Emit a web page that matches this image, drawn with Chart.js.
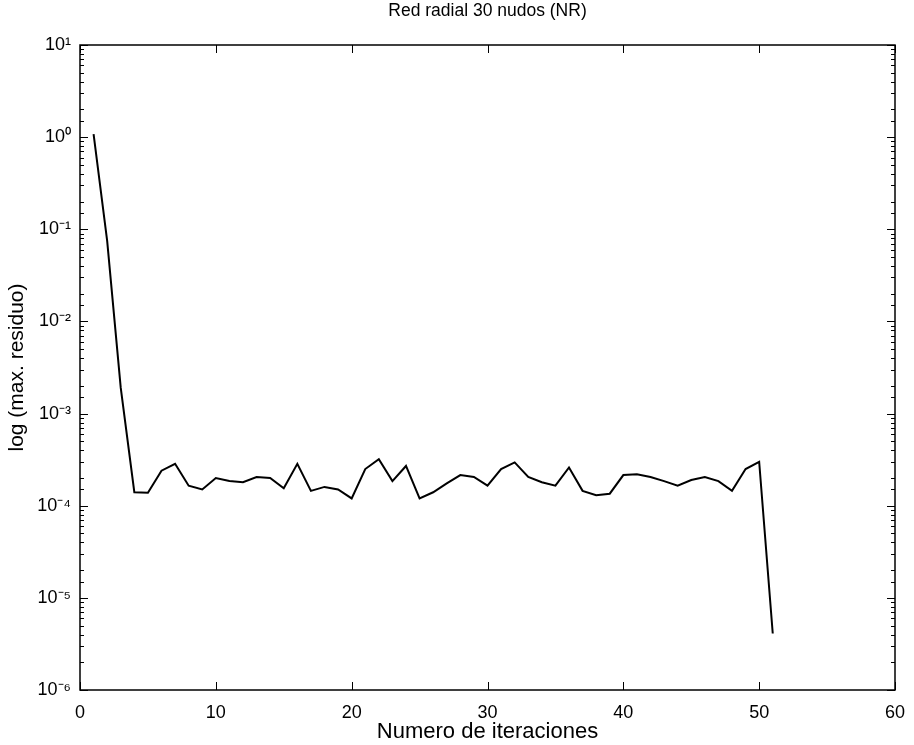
<!DOCTYPE html>
<html>
<head>
<meta charset="utf-8">
<script src="https://cdn.jsdelivr.net/npm/chart.js@4/dist/chart.umd.min.js"></script>
<style>
  html, body { margin: 0; padding: 0; background: #fff; }
  #wrap { width: 914px; height: 745px; }
</style>
</head>
<body>
<div id="wrap"><canvas id="chart" width="914" height="745"></canvas></div>
<script>
// iteration number and max residual
const iterations = [1, 2, 3, 4, 5, 6, 7, 8, 9, 10, 11, 12, 13, 14, 15, 16, 17, 18, 19, 20,
    21, 22, 23, 24, 25, 26, 27, 28, 29, 30, 31, 32, 33, 34, 35, 36, 37, 38, 39, 40,
    41, 42, 43, 44, 45, 46, 47, 48, 49, 50, 51];
const residuals = [1.08, 0.075, 0.0019, 1.4e-4, 1.38e-4, 2.4e-4, 2.85e-4, 1.65e-4, 1.5e-4, 2.0e-4,
    1.85e-4, 1.8e-4, 2.05e-4, 2.0e-4, 1.55e-4, 2.85e-4, 1.45e-4, 1.6e-4, 1.5e-4, 1.2e-4,
    2.5e-4, 3.2e-4, 1.85e-4, 2.7e-4, 1.2e-4, 1.4e-4, 1.75e-4, 2.15e-4, 2.05e-4, 1.65e-4,
    2.5e-4, 2.95e-4, 2.05e-4, 1.8e-4, 1.65e-4, 2.6e-4, 1.45e-4, 1.3e-4, 1.35e-4, 2.15e-4,
    2.2e-4, 2.05e-4, 1.85e-4, 1.65e-4, 1.9e-4, 2.05e-4, 1.85e-4, 1.45e-4, 2.5e-4, 3.0e-4, 4.1e-6];
const xTicks = [0, 10, 20, 30, 40, 50, 60];
const yRange = [1e-6, 10];

const sup = { '-': '\u207B', '0': '\u2070', '1': '\u00B9', '2': '\u00B2', '3': '\u00B3',
    '4': '\u2074', '5': '\u2075', '6': '\u2076', '7': '\u2077', '8': '\u2078', '9': '\u2079' };
function powLabel(v) {
    const e = Math.round(Math.log10(v));
    if (Math.abs(Math.log10(v) - e) > 1e-6) return '';
    return '10' + String(e).split('').map(c => sup[c]).join('');
}

// MATLAB style box with inward ticks, title centred over the axes
const boxTicks = {
    id: 'boxTicks',
    afterLayout(chart) {
        if (chart.titleBlock) {
            chart.titleBlock.left = chart.chartArea.left;
            chart.titleBlock.right = chart.chartArea.right;
            chart.titleBlock.width = chart.chartArea.right - chart.chartArea.left;
        }
    },
    afterDraw(chart) {
        const { ctx, chartArea: a, scales } = chart;
        ctx.save();
        ctx.strokeStyle = '#000';
        ctx.lineWidth = 1;
        ctx.beginPath();
        scales.y.ticks.forEach(t => {
            const py = Math.round(scales.y.getPixelForValue(t.value)) + 0.5;
            const len = powLabel(t.value) ? 8 : 4;
            ctx.moveTo(a.left, py); ctx.lineTo(a.left + len, py);
            ctx.moveTo(a.right, py); ctx.lineTo(a.right - len, py);
        });
        xTicks.forEach(v => {
            const px = Math.round(scales.x.getPixelForValue(v)) + 0.5;
            ctx.moveTo(px, a.bottom); ctx.lineTo(px, a.bottom - 8);
            ctx.moveTo(px, a.top); ctx.lineTo(px, a.top + 8);
        });
        ctx.stroke();
        ctx.lineWidth = 1.5;
        ctx.strokeRect(a.left, a.top, a.right - a.left, a.bottom - a.top);
        ctx.restore();
    }
};

const font = 'Liberation Sans, Arial, Helvetica, sans-serif';
Chart.defaults.font.family = font;
Chart.defaults.color = '#000';

new Chart(document.getElementById('chart').getContext('2d'), {
    type: 'line',
    data: {
        datasets: [{
            data: iterations.map((x, i) => ({ x: x, y: residuals[i] })),
            borderColor: '#000',
            borderWidth: 2,
            pointRadius: 0,
            tension: 0,
            fill: false
        }]
    },
    options: {
        responsive: false,
        animation: false,
        layout: { padding: { left: 0, right: 19, top: 0, bottom: 0 } },
        plugins: {
            legend: { display: false },
            tooltip: { enabled: false },
            title: {
                display: true,
                text: 'Red radial 30 nudos (NR)',
                font: { size: 17.5, weight: 'normal' },
                padding: { top: 1, bottom: 23 }
            }
        },
        scales: {
            x: {
                type: 'linear',
                min: 0,
                max: 60,
                afterFit: s => { s.height = 55; },
                afterBuildTicks: s => { s.ticks = xTicks.map(v => ({ value: v })); },
                grid: { display: false },
                border: { display: false },
                ticks: { font: { size: 18 }, padding: 4, maxRotation: 0 },
                title: {
                    display: true,
                    text: 'Numero de iteraciones',
                    font: { size: 22 },
                    padding: { top: 0, bottom: 0 }
                }
            },
            y: {
                type: 'logarithmic',
                min: yRange[0],
                max: yRange[1],
                afterFit: s => { s.width = 80; },
                grid: { display: false },
                border: { display: false },
                ticks: {
                    font: { size: 18 },
                    padding: 1,
                    autoSkip: false,
                    callback: v => powLabel(v)
                },
                title: {
                    display: true,
                    text: 'log (max. residuo)',
                    font: { size: 21 },
                    padding: { top: 5, bottom: 0 }
                }
            }
        }
    },
    plugins: [boxTicks]
});
</script>
</body>
</html>
